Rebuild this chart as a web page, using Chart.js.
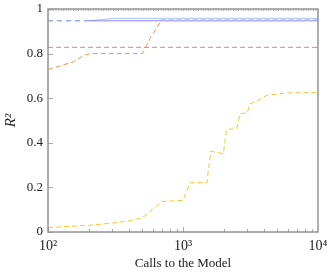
<!DOCTYPE html>
<html>
<head>
<meta charset="utf-8">
<script src="https://cdn.jsdelivr.net/npm/chart.js@4"></script>
<style>
  html, body { margin: 0; padding: 0; background: #fff; }
  #wrap { width: 333px; height: 273px; }
</style>
</head>
<body>
<div id="wrap"><canvas id="c"></canvas></div>
<script>
// values
const topCalls = [100, 10000];
const topR2 = [0.994, 0.994];

const blueDashCalls = [100, 200];
const blueDashR2 = [0.947, 0.947];

const blueCalls = [200, 10000];
const blueR2 = [0.947, 0.947];

const lightBlueCalls = [200, 250, 320, 10000];
const lightBlueR2 = [0.947, 0.953, 0.958, 0.958];

const pinkCalls = [100, 10000];
const pinkR2 = [0.828, 0.828];

const orangeCalls = [100, 154, 182, 204, 500, 570, 700, 10000];
const orangeR2 = [0.729, 0.763, 0.79, 0.80, 0.80, 0.868, 0.955, 0.955];

const yellowCalls = [100, 200, 300, 400, 500, 700, 1000, 1130, 1500, 1610, 1990, 2100, 2500, 2650, 2990, 3130, 3430, 4170, 4920, 5850, 10000];
const yellowR2 = [0.02, 0.03, 0.04, 0.05, 0.064, 0.137, 0.142, 0.221, 0.221, 0.362, 0.351, 0.459, 0.464, 0.531, 0.534, 0.576, 0.582, 0.613, 0.618, 0.624, 0.625];

const yTicks = [0, 0.2, 0.4, 0.6, 0.8, 1];
const xMajor = { 100: '10\u00B2', 1000: '10\u00B3', 10000: '10\u2074' };

function pts(xs, ys) {
  return xs.map((x, i) => ({ x: x, y: ys[i] }));
}

function line(label, xs, ys, color, dash) {
  return {
    label: label,
    data: pts(xs, ys),
    borderColor: color,
    borderWidth: 1,
    borderDash: dash,
    pointRadius: 0,
    fill: false,
    tension: 0
  };
}

// frame and inward ticks, pgfplots style
const framePlugin = {
  id: 'frame',
  afterDatasetsDraw(chart) {
    const ctx = chart.ctx;
    const a = chart.chartArea;
    const xs = chart.scales.x, ys = chart.scales.y;
    ctx.save();
    ctx.strokeStyle = '#aaaaaa';
    ctx.lineWidth = 1;
    for (let e = 2; e <= 3; e++) {
      for (let m = 1; m <= 9; m++) {
        const v = m * Math.pow(10, e);
        const px = Math.round(xs.getPixelForValue(v)) + 0.5;
        const len = m === 1 ? 5 : 3;
        ctx.beginPath();
        ctx.moveTo(px, a.bottom);
        ctx.lineTo(px, a.bottom - len);
        ctx.stroke();
      }
    }
    yTicks.forEach(v => {
      const py = Math.round(ys.getPixelForValue(v)) + 0.5;
      ctx.beginPath();
      ctx.moveTo(a.left, py);
      ctx.lineTo(a.left + 5, py);
      ctx.stroke();
    });
    ctx.strokeStyle = '#8c8c8c';
    ctx.lineWidth = 1.4;
    ctx.strokeRect(a.left, a.top, a.right - a.left, a.bottom - a.top);
    ctx.restore();
  }
};

const serif = 'Liberation Serif';

new Chart(document.getElementById('c'), {
  type: 'line',
  data: {
    datasets: [
      line('top', topCalls, topR2, '#9a9a9a', [1, 1.5]),
      line('pink', pinkCalls, pinkR2, '#c98aa6', [5, 3]),
      line('yellow', yellowCalls, yellowR2, '#ffc233', [5, 3]),
      line('blue dashed', blueDashCalls, blueDashR2, '#6f7ff0', [5, 4]),
      line('blue', blueCalls, blueR2, '#8a86f0', []),
      line('light blue', lightBlueCalls, lightBlueR2, '#a8c4ff', []),
      line('orange', orangeCalls, orangeR2, '#f7954a', [5, 3])
    ]
  },
  options: {
    responsive: true,
    maintainAspectRatio: false,
    animation: false,
    layout: { padding: { top: 9, right: 15, left: 0, bottom: 0 } },
    plugins: { legend: { display: false }, tooltip: { enabled: false } },
    scales: {
      x: {
        type: 'logarithmic',
        min: 100,
        max: 10000,
        border: { display: false },
        grid: { display: false, drawTicks: false },
        ticks: {
          autoSkip: false,
          maxRotation: 0,
          padding: 6,
          color: '#222',
          font: { family: serif, size: 14 },
          callback: v => xMajor[v] || ''
        },
        title: {
          display: true,
          text: 'Calls to the Model',
          color: '#222',
          padding: { top: 2, bottom: 2 },
          font: { family: serif, size: 13 }
        },
        afterFit: s => {
          s.height = 41;
          s.paddingLeft = 0;
          s.paddingRight = 0;
        }
      },
      y: {
        min: 0,
        max: 1,
        border: { display: false },
        grid: { display: false, drawTicks: false },
        ticks: {
          stepSize: 0.2,
          padding: 5,
          color: '#222',
          font: { family: serif, size: 13 },
          callback: v => String(Math.round(v * 10) / 10)
        },
        title: {
          display: true,
          text: 'R\u00B2',
          color: '#222',
          padding: { top: 2, bottom: 6 },
          font: { family: serif, size: 15, style: 'italic' }
        },
        afterFit: s => {
          s.width = 48;
          s.paddingTop = 0;
          s.paddingBottom = 0;
        }
      }
    }
  },
  plugins: [framePlugin]
});
</script>
</body>
</html>
